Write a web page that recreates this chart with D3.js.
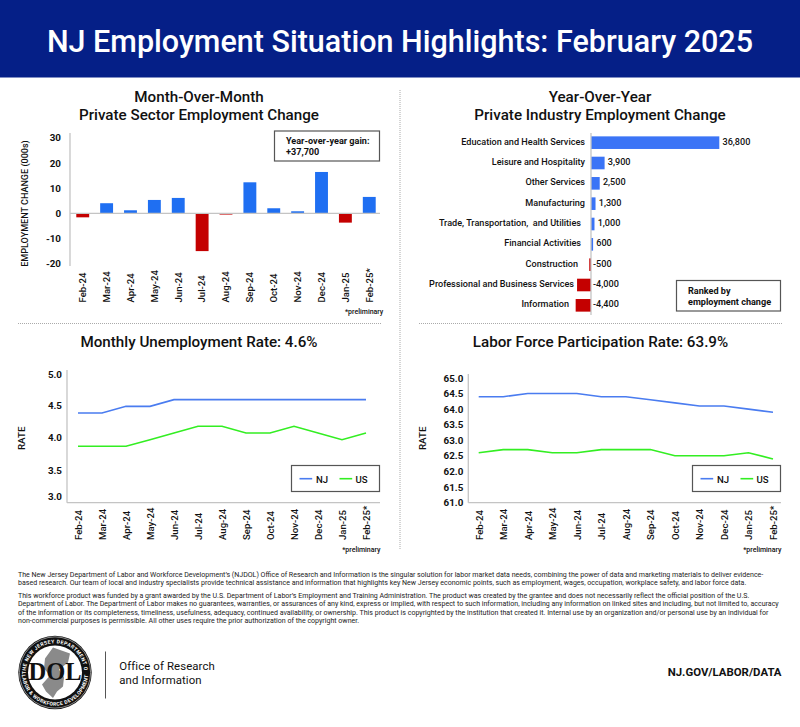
<!DOCTYPE html>
<html><head><meta charset="utf-8">
<script src="https://cdn.jsdelivr.net/npm/d3@7"></script>
<style>
html,body{margin:0;padding:0;background:#fff}
svg{display:block}
text{font-family:Roboto,sans-serif;fill:#111}
</style></head><body><div id="c"></div>
<script>
const months=["Feb-24","Mar-24","Apr-24","May-24","Jun-24","Jul-24","Aug-24","Sep-24","Oct-24","Nov-24","Dec-24","Jan-25","Feb-25*"];
const momValues=[-1.6,4,1.2,5.3,6.1,-15,-0.5,12.3,2,0.8,16.4,-3.7,6.5];
const momTicks=[30,20,10,0,-10,-20];
const industries=["Education and Health Services","Leisure and Hospitality","Other Services","Manufacturing","Trade, Transportation,  and Utilities","Financial Activities","Construction","Professional and Business Services","Information"];
const industryValues=[36800,3900,2500,1300,1000,600,-500,-4000,-4400];
const urNJ=[4.4,4.4,4.5,4.5,4.6,4.6,4.6,4.6,4.6,4.6,4.6,4.6,4.6];
const urUS=[3.9,3.9,3.9,4.0,4.1,4.2,4.2,4.1,4.1,4.2,4.1,4.0,4.1];
const urTicks=[5,4.5,4,3.5,3];
const lfNJ=[64.4,64.4,64.5,64.5,64.5,64.4,64.4,64.3,64.2,64.1,64.1,64.0,63.9];
const lfUS=[62.6,62.7,62.7,62.6,62.6,62.7,62.7,62.7,62.5,62.5,62.5,62.6,62.4];
const lfTicks=[65,64.5,64,63.5,63,62.5,62,61.5,61];
const footer1=["The New Jersey Department of Labor and Workforce Development’s (NJDOL) Office of Research and Information is the singular solution for labor market data needs, combining the power of data and marketing materials to deliver evidence-","based research. Our team of local and industry specialists provide technical assistance and information that highlights key New Jersey economic points, such as employment, wages, occupation, workplace safety, and labor force data."];
const footer2=["This workforce product was funded by a grant awarded by the U.S. Department of Labor’s Employment and Training Administration. The product was created by the grantee and does not necessarily reflect the official position of the U.S.","Department of Labor. The Department of Labor makes no guarantees, warranties, or assurances of any kind, express or implied, with respect to such information, including any information on linked sites and including, but not limited to, accuracy","of the information or its completeness, timeliness, usefulness, adequacy, continued availability, or ownership. This product is copyrighted by the institution that created it. Internal use by an organization and/or personal use by an individual for","non-commercial purposes is permissible. All other uses require the prior authorization of the copyright owner."];

const BLUE="#1f6ff2",BARBLUE="#3b74f6",RED="#c40000",LNJ="#4a7cf0",LUS="#33ee22",AX="#c4c4c4",BOX="#555";
const svg=d3.select("#c").append("svg").attr("width",800).attr("height",727).attr("viewBox","0 0 800 727");
svg.append("rect").attr("width",800).attr("height",77.5).attr("fill","#051f87");
function T(g,x,y,s,size,weight,anchor,fill){return g.append("text").attr("x",x).attr("y",y).text(s).attr("font-size",size).attr("font-weight",weight||400).attr("text-anchor",anchor||"start").style("fill",fill||"#111").attr("xml:space","preserve")}
T(svg,400,52,"NJ Employment Situation Highlights: February 2025",30.5,500,"middle","#fff");

// dividers
const dot=(x1,y1,x2,y2)=>svg.append("line").attr("x1",x1).attr("y1",y1).attr("x2",x2).attr("y2",y2).attr("stroke","#aaa").attr("stroke-width",1).attr("stroke-dasharray","1 1");
dot(400,90,400,550);dot(18,323.5,381,323.5);dot(419,323.5,782,323.5);

// titles
T(svg,199,102,"Month-Over-Month",15.2,500,"middle");
T(svg,199,120,"Private Sector Employment Change",15.2,500,"middle");
T(svg,600,102,"Year-Over-Year",15.2,500,"middle");
T(svg,600,120,"Private Industry Employment Change",15.2,500,"middle");
T(svg,199,346.5,"Monthly Unemployment Rate: 4.6%",15.2,500,"middle");
T(svg,600.5,346.5,"Labor Force Participation Rate: 63.9%",15.2,500,"middle");

function xLabels(x,yBase){
 const g=svg.append("g").attr("transform",`translate(0,${yBase})`);
 d3.axisBottom(x).tickSize(0).tickPadding(0)(g);
 g.select(".domain").remove();
 g.selectAll("text").attr("transform","rotate(-90)").attr("x",0).attr("y",0).attr("dy","0.35em").attr("text-anchor","start")
  .style("font-family","Roboto").attr("font-size",9.6).attr("font-weight",500).style("fill","#111");
}
function yLabels(scale,x,ticks,fmt){
 const g=svg.append("g").attr("transform",`translate(${x},0)`);
 d3.axisLeft(scale).tickValues(ticks).tickSize(0).tickPadding(0).tickFormat(fmt)(g);
 g.select(".domain").remove();
 g.selectAll("text").style("font-family","Roboto").attr("font-size",9.8).attr("font-weight",700).style("fill","#111");
}
const line=(x1,y1,x2,y2,w)=>svg.append("line").attr("x1",x1).attr("y1",y1).attr("x2",x2).attr("y2",y2).attr("stroke",AX).attr("stroke-width",w||1.3);
function yTitle(x,y,s,size,w){svg.append("text").attr("transform",`translate(${x},${y}) rotate(-90)`).attr("text-anchor","middle").attr("font-size",size).attr("font-weight",w).text(s)}
function box(x,y,w,h){svg.append("rect").attr("x",x).attr("y",y).attr("width",w).attr("height",h).attr("fill","#fff").attr("stroke",BOX).attr("stroke-width",1.2)}
const hy=s=>String(s).replace("\u2212","-");

// chart 1
{
 const x=d3.scaleBand().domain(months).range([70.8,381.2]).paddingInner(0.46).paddingOuter(0.23);
 const y=d3.scaleLinear().domain([-20,30]).range([263.7,137.7]);
 svg.append("g").selectAll("rect").data(momValues).join("rect")
  .attr("x",(d,i)=>x(months[i])).attr("width",x.bandwidth())
  .attr("y",d=>y(Math.max(d,0))).attr("height",d=>Math.abs(y(d)-y(0)))
  .attr("fill",d=>d<0?RED:BLUE);
 line(70,133,70,266);line(70,y(0),380,y(0));
 yLabels(y,61,momTicks,d=>String(d));
 xLabels(x,302.5);
 yTitle(28,203.5,"EMPLOYMENT CHANGE (000s)",9.05,500);
 box(274.5,131,105,30);
 T(svg,286,143.5,"Year-over-year gain:",9.1,700);
 T(svg,286,154.5,"+37,700",9.1,700);
 T(svg,383.3,313.5,"*preliminary",7,500,"end");
}
// chart 2
{
 const x=d3.scaleLinear().domain([0,36800]).range([591,719.3]);
 const y=d3.scaleBand().domain(industries).range([132.5,315.5]).paddingInner(0.38).paddingOuter(0.19);
 svg.append("g").selectAll("rect").data(industryValues).join("rect")
  .attr("x",d=>x(Math.min(d,0))).attr("width",d=>Math.abs(x(d)-x(0)))
  .attr("y",(d,i)=>y(industries[i])).attr("height",y.bandwidth())
  .attr("fill",d=>d<0?RED:BARBLUE);
 line(591,133,591,315);
 const labelEnd=i=>i<4?585:i<6?581:i==6?578:i==7?574:569;
 const fmt=d3.format(",");
 industries.forEach((s,i)=>{
  const cy=y(s)+y.bandwidth()/2-1.2, v=industryValues[i];
  T(svg,labelEnd(i),cy+3.3,s,9.1,500,"end");
  const vx=v<0?593:x(v)+3.2;
  T(svg,vx,cy+3.3,hy(fmt(v)),9.1,500);
 });
 box(676.5,280.5,104,30.5);
 T(svg,688,293.5,"Ranked by",9.1,700);
 T(svg,688,304.8,"employment change",9.1,700);
}
function lineChart(o){
 const x=d3.scalePoint().domain(months).range(o.xr);
 const gen=d3.line().x((d,i)=>x(months[i])).y(d=>o.y(d));
 line(o.ax,o.top,o.ax,o.bot);line(o.ax,o.bot,o.end,o.bot);
 [[o.nj,LNJ],[o.us,LUS]].forEach(([d,c])=>svg.append("path").attr("d",gen(d)).attr("fill","none").attr("stroke",c).attr("stroke-width",1.6));
 yLabels(o.ticksScale,o.ax-5,o.ticks,d3.format(".1f"));
 xLabels(x,540);
 yTitle(o.ax-42,438.3,"RATE",9.8,500);
 const b=o.box;
 box(b,465.5,o.bw,26);
 svg.append("line").attr("x1",b+8).attr("x2",b+20.7).attr("y1",478.7).attr("y2",478.7).attr("stroke",LNJ).attr("stroke-width",1.6);
 T(svg,b+24.5,482.5,"NJ",9.6,500);
 svg.append("line").attr("x1",b+48).attr("x2",b+60.7).attr("y1",478.7).attr("y2",478.7).attr("stroke",LUS).attr("stroke-width",1.6);
 T(svg,b+64,482.5,"US",9.6,500);
 T(svg,o.end+0.5,551.5,"*preliminary",7,500,"end");
}
lineChart({xr:[78,366],ax:67,top:370,bot:502.7,end:380,box:291.5,bw:88,nj:urNJ,us:urUS,
 y:d3.scaleLinear().domain([3,5]).range([506.3,373]),ticks:urTicks,
 ticksScale:d3.scaleLinear().domain([5,4.5,4,3.5,3]).range([374,405.7,437.7,470,496.7])});
lineChart({xr:[478.7,773],ax:468.3,top:374,bot:502.7,end:781,box:692.5,bw:88,nj:lfNJ,us:lfUS,
 y:d3.scaleLinear().domain([61,65]).range([502.5,378]),ticks:lfTicks,
 ticksScale:d3.scaleLinear().domain([61,65]).range([502.5,378])});

// footer
footer1.forEach((s,i)=>T(svg,18,576.8+i*8.6,s,7.05,400,"start","#222"));
footer2.forEach((s,i)=>T(svg,18,597.7+i*8.45,s,7.05,400,"start","#222"));

// seal
{
 const g=svg.append("g").attr("transform","translate(55,672.5)");
 g.append("circle").attr("r",36.7).attr("fill","#111");
 g.append("circle").attr("r",35.6).attr("fill","none").attr("stroke","#fff").attr("stroke-width",0.5);
 g.append("circle").attr("r",27).attr("fill","#fff");
 g.append("path").attr("d","M-2,-25 L15,-19 L13,-10 L4,-3 L9,5 L8,14 L2,19 L-2,25.5 L-9,19 L-13,12 L-5,3 L-11,-4 L-10,-14 Z").attr("fill","#8a8a8a");
 T(g,0,7.5,"DOL",24.5,700,"middle").style("font-family","'Liberation Serif',serif");
 const defs=svg.append("defs");
 defs.append("path").attr("id","arcT").attr("d","M-29.3,0 A29.3,29.3 0 0 1 29.3,0");
 defs.append("path").attr("id","arcB").attr("d","M-33.2,0 A33.2,33.2 0 0 0 33.2,0");
 g.append("text").attr("font-size",5.1).attr("font-weight",700).style("fill","#fff").style("letter-spacing","0.45px").attr("text-anchor","middle")
  .append("textPath").attr("href","#arcT").attr("startOffset","50%").text("THE NEW JERSEY DEPARTMENT OF");
 g.append("text").attr("font-size",5.1).attr("font-weight",700).style("fill","#fff").style("letter-spacing","0.35px").attr("text-anchor","middle")
  .append("textPath").attr("href","#arcB").attr("startOffset","50%").text("LABOR & WORKFORCE DEVELOPMENT");
}
svg.append("line").attr("x1",105.5).attr("x2",105.5).attr("y1",651.5).attr("y2",698.5).attr("stroke","#555").attr("stroke-width",1);
T(svg,119.3,670,"Office of Research",11.4,400).style("letter-spacing","0.1px");
T(svg,119.3,683.5,"and Information",11.4,400).style("letter-spacing","0.1px");
T(svg,781.5,676.3,"NJ.GOV/LABOR/DATA",11.4,700,"end");
</script></body></html>
